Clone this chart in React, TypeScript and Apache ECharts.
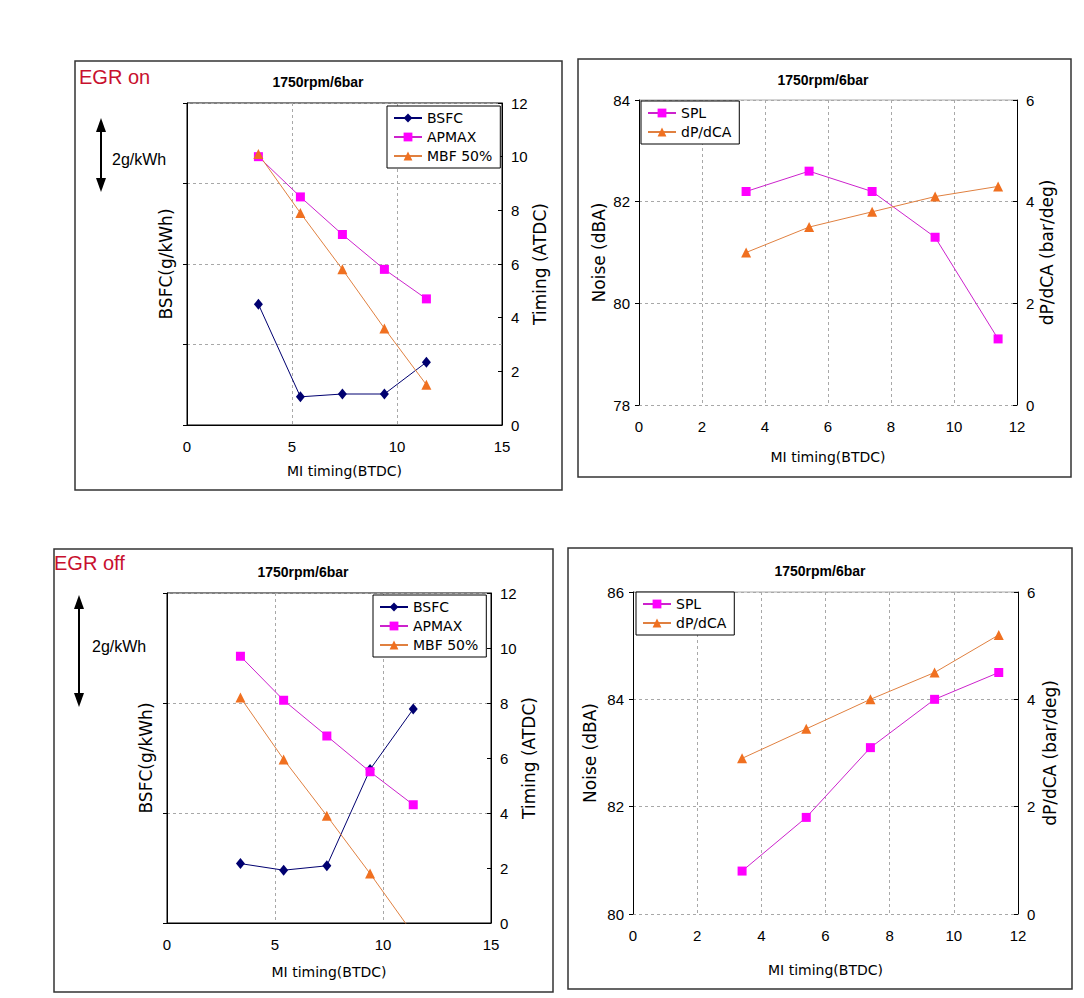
import React, { useEffect, useRef } from "react";
import * as echarts from "echarts";

// MI timing (BTDC) positions shared by all four panels
const xTiming = [3.4, 5.4, 7.4, 9.4, 11.4];

// EGR on
const bsfcOn = [3.0, 0.7, 0.77, 0.77, 1.56];
const apmaxOn = [10.0, 8.5, 7.1, 5.8, 4.7];
const mbfOn = [10.1, 7.9, 5.8, 3.6, 1.5];
const splOn = [82.2, 82.6, 82.2, 81.3, 79.3];
const dpOn = [3.0, 3.5, 3.8, 4.1, 4.3];

// EGR off
const bsfcOff = [1.08, 0.96, 1.04, 2.79, 3.89];
const apmaxOff = [9.7, 8.1, 6.8, 5.5, 4.3];
const mbfOff = [8.2, 5.95, 3.9, 1.8, -0.4];
const splOff = [80.8, 81.8, 83.1, 84.0, 84.5];
const dpOff = [2.9, 3.45, 4.0, 4.5, 5.2];

const panelTitle = "1750rpm/6bar";
const xName = "MI timing(BTDC)";

const FONT = "Liberation Sans";
const NFONT = "DejaVu Sans";
const NAVY = "#000070";
const MAG = "#FF00FF";
const MAGLINE = "#CC22CC";
const ORA = "#F07020";
const ORALINE = "#E08040";
const GRIDC = "#a8a8a8";

const pairs = (ys: number[]) => xTiming.map((x, i) => [x, ys[i]]);

function xAx(gridIndex: number, max: number, interval: number, nameGap: number, showLine: boolean) {
  return {
    type: "value",
    gridIndex,
    min: 0,
    max,
    interval,
    name: xName,
    nameLocation: "middle",
    nameGap,
    nameTextStyle: { fontFamily: NFONT, fontSize: 14, color: "#000" },
    axisLine: { show: showLine, onZero: false, lineStyle: { color: "#000", width: 1 } },
    axisTick: { show: false },
    axisLabel: { fontFamily: FONT, fontSize: 15, color: "#000", margin: 14 },
    splitLine: { show: true, lineStyle: { color: GRIDC, type: [3, 3], width: 1 } },
  };
}

function yAx(
  gridIndex: number,
  position: "left" | "right",
  min: number,
  max: number,
  interval: number,
  name: string,
  nameGap: number,
  showLabel: boolean,
  split: boolean
) {
  return {
    type: "value",
    gridIndex,
    position,
    min,
    max,
    interval,
    name,
    nameLocation: "middle",
    nameGap,
    nameTextStyle: { fontFamily: NFONT, fontSize: 17, color: "#000" },
    axisLine: { show: true, onZero: false, lineStyle: { color: "#000", width: 1 } },
    axisTick: { show: true, inside: position === "right", length: 4, lineStyle: { color: "#000" } },
    axisLabel: { show: showLabel, fontFamily: FONT, fontSize: 15, color: "#000", margin: 9 },
    splitLine: { show: split, lineStyle: { color: GRIDC, type: [3, 3], width: 1 } },
  };
}

function ser(name: string, xi: number, yi: number, ys: number[], kind: "d" | "s" | "t") {
  const color = kind === "d" ? NAVY : kind === "s" ? MAG : ORA;
  const lcolor = kind === "d" ? NAVY : kind === "s" ? MAGLINE : ORALINE;
  return {
    type: "line",
    name,
    xAxisIndex: xi,
    yAxisIndex: yi,
    data: pairs(ys),
    symbol: kind === "d" ? "diamond" : kind === "s" ? "rect" : "triangle",
    symbolSize: kind === "d" ? [9, 11] : kind === "s" ? 9 : 10,
    showSymbol: true,
    clip: true,
    itemStyle: { color },
    lineStyle: { color: lcolor, width: 1 },
    emphasis: { disabled: true },
  };
}

function legend(names: string[], left: number, top: number) {
  return {
    data: names,
    left,
    top,
    orient: "vertical",
    backgroundColor: "#fff",
    borderColor: "#000",
    borderWidth: 1,
    borderRadius: 0,
    padding: [5, 8, 5, 6],
    itemGap: 5,
    itemWidth: 28,
    itemHeight: 11,
    selectedMode: false,
    textStyle: { fontFamily: NFONT, fontSize: 14, color: "#000" },
  };
}

function txt(text: string, x: number, y: number, font: string, fill = "#000", align = "center") {
  return {
    type: "text",
    x,
    y,
    silent: true,
    style: { text, font, fill, align, verticalAlign: "middle" },
  };
}

function box(x: number, y: number, w: number, h: number) {
  return {
    type: "rect",
    silent: true,
    z: -10,
    shape: { x, y, width: w, height: h },
    style: { fill: "none", stroke: "#333", lineWidth: 1.5 },
  };
}

function arrow(x: number, y1: number, y2: number) {
  return [
    { type: "line", silent: true, shape: { x1: x, y1: y1 + 8, x2: x, y2: y2 - 8 }, style: { stroke: "#000", lineWidth: 2 } },
    { type: "polygon", silent: true, shape: { points: [[x, y1], [x - 5, y1 + 14], [x + 5, y1 + 14]] }, style: { fill: "#000" } },
    { type: "polygon", silent: true, shape: { points: [[x, y2], [x - 5, y2 - 14], [x + 5, y2 - 14]] }, style: { fill: "#000" } },
  ];
}

export default function App() {
  const ref = useRef<HTMLDivElement>(null);
  useEffect(() => {
    const chart = echarts.init(ref.current!, null, { renderer: "svg" });
    const option: any = {
      animation: false,
      backgroundColor: "#fff",
      grid: [
        { left: 187, top: 103, width: 315, height: 322, show: true, borderColor: "#000", borderWidth: 1, backgroundColor: "transparent" },
        { left: 639, top: 100, width: 378, height: 305 },
        { left: 167, top: 593, width: 324, height: 330, show: true, borderColor: "#000", borderWidth: 1, backgroundColor: "transparent" },
        { left: 633, top: 592, width: 385, height: 322 },
      ],
      xAxis: [
        xAx(0, 15, 5, 39, true),
        xAx(1, 12, 2, 45, false),
        xAx(2, 15, 5, 42, true),
        xAx(3, 12, 2, 49, false),
      ],
      yAxis: [
        yAx(0, "left", 0, 8, 2, "BSFC(g/kWh)", 13, false, true),
        yAx(0, "right", 0, 12, 2, "Timing (ATDC)", 27, true, false),
        yAx(1, "left", 78, 84, 2, "Noise (dBA)", 32, true, true),
        yAx(1, "right", 0, 6, 2, "dP/dCA (bar/deg)", 19, true, false),
        yAx(2, "left", 0, 6, 2, "BSFC(g/kWh)", 13, false, true),
        yAx(2, "right", 0, 12, 2, "Timing (ATDC)", 27, true, false),
        yAx(3, "left", 80, 86, 2, "Noise (dBA)", 35, true, true),
        yAx(3, "right", 0, 6, 2, "dP/dCA (bar/deg)", 23, true, false),
      ],
      legend: [
        legend(["BSFC", "APMAX", "MBF 50%"], 387, 106),
        legend(["SPL", "dP/dCA"], 641, 101),
        legend(["BSFC", "APMAX", "MBF 50%"], 373, 595),
        legend(["SPL", "dP/dCA"], 636, 592),
      ],
      series: [
        ser("BSFC", 0, 0, bsfcOn, "d"),
        ser("APMAX", 0, 1, apmaxOn, "s"),
        ser("MBF 50%", 0, 1, mbfOn, "t"),
        ser("SPL", 1, 2, splOn, "s"),
        ser("dP/dCA", 1, 3, dpOn, "t"),
        ser("BSFC", 2, 4, bsfcOff, "d"),
        ser("APMAX", 2, 5, apmaxOff, "s"),
        ser("MBF 50%", 2, 5, mbfOff, "t"),
        ser("SPL", 3, 6, splOff, "s"),
        ser("dP/dCA", 3, 7, dpOff, "t"),
      ],
      graphic: [
        box(75, 61, 487, 429),
        box(578, 59, 493, 418),
        box(54, 549, 499, 443),
        box(568, 548, 504, 441),
        { type: "line", silent: true, shape: { x1: 639, y1: 100, x2: 1017, y2: 100 }, style: { stroke: GRIDC, lineWidth: 1 } },
        { type: "line", silent: true, shape: { x1: 633, y1: 592, x2: 1018, y2: 592 }, style: { stroke: GRIDC, lineWidth: 1 } },
        txt(panelTitle, 318, 82, `bold 14px "${FONT}"`),
        txt(panelTitle, 823, 80, `bold 14px "${FONT}"`),
        txt(panelTitle, 303, 572, `bold 14px "${FONT}"`),
        txt(panelTitle, 820, 571, `bold 14px "${FONT}"`),
        txt("EGR on", 79, 77, `20px "${FONT}"`, "#C8102E", "left"),
        txt("EGR off", 54, 563, `20px "${FONT}"`, "#C8102E", "left"),
        txt("2g/kWh", 112, 159, `16px "${FONT}"`, "#000", "left"),
        txt("2g/kWh", 92, 646, `16px "${FONT}"`, "#000", "left"),
        ...arrow(101, 118, 192),
        ...arrow(79, 595, 707),
      ],
    };
    chart.setOption(option);
    return () => chart.dispose();
  }, []);
  return (
    <div
      ref={ref}
      style={{ position: "absolute", left: 0, top: 0, width: 1084, height: 998, background: "#fff" }}
    />
  );
}
